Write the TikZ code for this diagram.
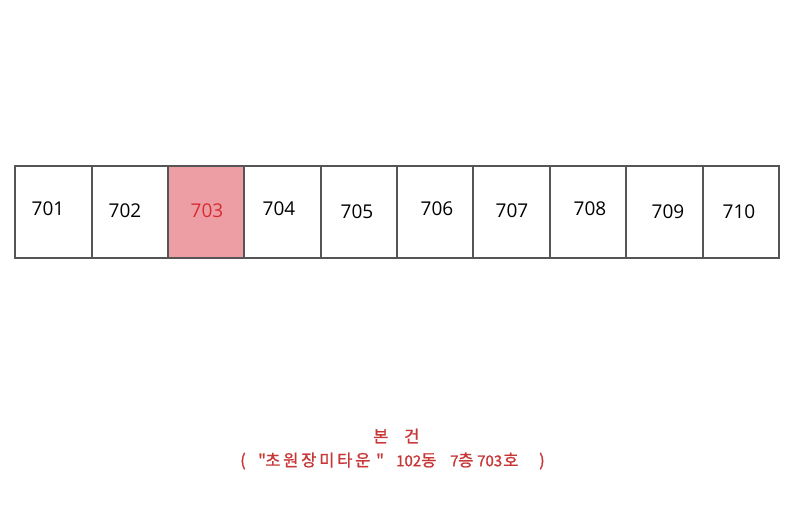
\documentclass[tikz,border=0pt]{standalone}
\usepackage{fontspec}
\setmainfont{Open Sans}
\newfontfamily\kofont[FakeBold=1.1]{Noto Sans CJK KR}
\newcommand{\dgt}[1]{{\kofont\fontsize{15}{18}\selectfont #1}}
\newcommand{\ch}[2]{\rlap{#2}\hspace{#1pt}}
\definecolor{cellline}{RGB}{85,85,85}
\definecolor{hlfill}{RGB}{236,158,164}
\definecolor{hltext}{RGB}{215,45,50}
\definecolor{captext}{RGB}{200,55,55}
\begin{document}
\begin{tikzpicture}[x=1pt,y=-1pt,
  cell/.style={draw=cellline,line width=1.6pt,minimum width=#1,minimum height=92pt,inner sep=0pt,anchor=north west},
  num/.style={font=\fontsize{19}{22}\selectfont,text=black,inner sep=0pt},
  captxt/.style={font=\kofont\fontsize{16.5}{20}\selectfont,text=captext,inner sep=0pt,anchor=west}]
\useasboundingbox (0,0) rectangle (800,520);
\fill[white] (0,0) rectangle (800,520);
\node[cell=77pt] (c1) at (14,165) {};
\node[cell=76pt] (c2) at (91,165) {};
\node[cell=76pt,fill=hlfill] (c3) at (167,165) {};
\node[cell=77pt] (c4) at (243,165) {};
\node[cell=76pt] (c5) at (320,165) {};
\node[cell=76pt] (c6) at (396,165) {};
\node[cell=77pt] (c7) at (472,165) {};
\node[cell=76pt] (c8) at (549,165) {};
\node[cell=77pt] (c9) at (625,165) {};
\node[cell=76pt] (c10) at (702,165) {};
\node[num] (t1) at (48,209) {701};
\node[num] (t2) at (125,211) {702};
\node[num,text=hltext] (t3) at (207,211) {703};
\node[num] (t4) at (279,209) {704};
\node[num] (t5) at (357,212) {705};
\node[num] (t6) at (437,209) {706};
\node[num] (t7) at (512,211) {707};
\node[num] (t8) at (590,209) {708};
\node[num] (t9) at (668,212) {709};
\node[num] (t10) at (739,212) {710};
\node[captxt] (l1) at (373,436) {\ch{31}{본}\rlap{건}};
\node[captxt] (l2) at (240,461) {\ch{18}{(}\ch{7}{"}\ch{18}{초}\ch{18}{원}\ch{18}{장}\ch{18}{미}\ch{18}{타}\ch{21}{운}\ch{20}{"}\ch{25}{\dgt{102}}\ch{29}{동}\ch{8}{\dgt{7}}\ch{19}{층}\ch{26}{\dgt{703}}\ch{36}{호})};
\end{tikzpicture}
\end{document}
